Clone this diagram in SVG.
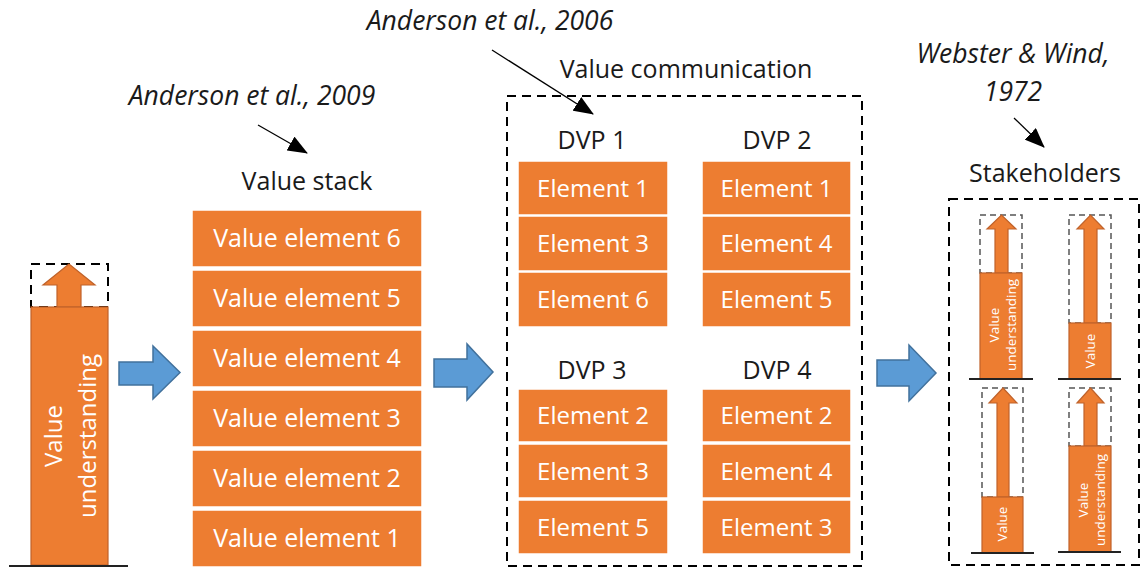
<svg xmlns="http://www.w3.org/2000/svg" width="1142" height="568" viewBox="0 0 1142 568">
<defs>
<style>
.lbl{font-family:"Open Sans","Liberation Sans",sans-serif;font-size:25px;fill:#1a1a1a;text-anchor:middle}
.cite{font-family:"Open Sans","Liberation Sans",sans-serif;font-size:26.5px;font-style:italic;fill:#1a1a1a;text-anchor:middle}
.wt{font-family:"Open Sans","Liberation Sans",sans-serif;font-size:24px;fill:#ffffff;text-anchor:middle}
.ve{font-size:25px}
.sm{font-family:"Open Sans","Liberation Sans",sans-serif;font-size:13.5px;fill:#ffffff;text-anchor:middle}
.box{fill:#ED7D31;stroke:#ffffff;stroke-width:1.5}
.bar{fill:#ED7D31;stroke:#C0622A;stroke-width:1.2}
.dash{fill:none;stroke:#000;stroke-width:2;stroke-dasharray:9 6}
.dsm{fill:none;stroke:#555;stroke-width:1.5;stroke-dasharray:6 4}
.base{stroke:#222;stroke-width:2}
.blue{fill:#5B9BD5;stroke:#41719C;stroke-width:1.5}
.ptr{stroke:#000;stroke-width:1.3;fill:none;marker-end:url(#ah)}
</style>
<marker id="ah" markerUnits="userSpaceOnUse" markerWidth="20" markerHeight="16" viewBox="0 0 20 16" refX="19" refY="8" orient="auto">
<path d="M0,0 L20,8 L0,16 Z" fill="#000"/>
</marker>
</defs>

<g id="value-understanding">
<rect class="dash" x="31" y="264" width="77" height="43" stroke-dasharray="10 6"/>
<polygon class="bar" points="57,307 57,285 43,285 69,264 95,285 81,285 81,307"/>
<rect class="bar" x="31" y="307" width="77" height="258"/>
<line class="base" x1="9" y1="566" x2="128" y2="566"/>
<g transform="translate(70,436) rotate(-90)">
<text class="wt" x="0" y="-8">Value</text>
<text class="wt" x="0" y="26">understanding</text>
</g>
</g>

<g id="value-stack">
<text class="lbl" x="307" y="190">Value stack</text>
<rect class="box" x="192" y="210" width="230" height="57"/>
<rect class="box" x="192" y="270" width="230" height="57"/>
<rect class="box" x="192" y="330" width="230" height="57"/>
<rect class="box" x="192" y="390" width="230" height="57"/>
<rect class="box" x="192" y="450" width="230" height="57"/>
<rect class="box" x="192" y="510" width="230" height="57"/>
<text class="wt ve" x="307" y="247">Value element 6</text>
<text class="wt ve" x="307" y="307">Value element 5</text>
<text class="wt ve" x="307" y="367">Value element 4</text>
<text class="wt ve" x="307" y="427">Value element 3</text>
<text class="wt ve" x="307" y="487">Value element 2</text>
<text class="wt ve" x="307" y="547">Value element 1</text>
</g>

<g id="value-communication">
<text class="lbl" x="686" y="78">Value communication</text>
<rect class="dash" x="507" y="96" width="355" height="470"/>
<g id="dvp1">
<text class="lbl" x="592" y="149">DVP 1</text>
<rect class="box" x="518" y="161" width="150" height="54"/>
<rect class="box" x="518" y="216" width="150" height="55"/>
<rect class="box" x="518" y="272" width="150" height="55"/>
<text class="wt" x="593" y="197">Element 1</text>
<text class="wt" x="593" y="252">Element 3</text>
<text class="wt" x="593" y="308">Element 6</text>
</g>
<g id="dvp2">
<text class="lbl" x="777" y="149">DVP 2</text>
<rect class="box" x="702" y="161" width="149" height="54"/>
<rect class="box" x="702" y="216" width="149" height="55"/>
<rect class="box" x="702" y="272" width="149" height="55"/>
<text class="wt" x="776.5" y="197">Element 1</text>
<text class="wt" x="776.5" y="252">Element 4</text>
<text class="wt" x="776.5" y="308">Element 5</text>
</g>
<g id="dvp3">
<text class="lbl" x="592" y="379">DVP 3</text>
<rect class="box" x="518" y="389" width="150" height="53"/>
<rect class="box" x="518" y="444" width="150" height="54"/>
<rect class="box" x="518" y="500" width="150" height="54"/>
<text class="wt" x="593" y="424">Element 2</text>
<text class="wt" x="593" y="480">Element 3</text>
<text class="wt" x="593" y="536">Element 5</text>
</g>
<g id="dvp4">
<text class="lbl" x="777" y="379">DVP 4</text>
<rect class="box" x="702" y="389" width="149" height="53"/>
<rect class="box" x="702" y="444" width="149" height="54"/>
<rect class="box" x="702" y="500" width="149" height="54"/>
<text class="wt" x="776.5" y="424">Element 2</text>
<text class="wt" x="776.5" y="480">Element 4</text>
<text class="wt" x="776.5" y="536">Element 3</text>
</g>
</g>

<g id="stakeholders">
<text class="lbl" x="1045" y="182">Stakeholders</text>
<rect class="dash" x="949" y="199" width="190" height="366"/>
<g id="sh-tl">
<rect class="dsm" x="980" y="215" width="42" height="58"/>
<polygon class="bar" points="995,273 995,229 987,229 1001.5,215 1016,229 1008,229 1008,273"/>
<rect class="bar" x="980" y="273" width="42" height="106"/>
<line class="base" x1="969" y1="379" x2="1033" y2="379"/>
<g transform="translate(1001,325) rotate(-90)">
<text class="sm" x="0" y="-2">Value</text>
<text class="sm" x="0" y="15">understanding</text>
</g>
</g>
<g id="sh-tr">
<rect class="dsm" x="1069" y="215" width="42" height="108"/>
<polygon class="bar" points="1084,323 1084,229 1077,229 1090.5,215 1104,229 1097,229 1097,323"/>
<rect class="bar" x="1069" y="323" width="42" height="56"/>
<line class="base" x1="1058" y1="379" x2="1121" y2="379"/>
<text class="sm" transform="translate(1095,351) rotate(-90)" x="0" y="0">Value</text>
</g>
<g id="sh-bl">
<rect class="dsm" x="982" y="388" width="41" height="109"/>
<polygon class="bar" points="997,497 997,403 989,403 1003,388 1017,403 1009,403 1009,497"/>
<rect class="bar" x="982" y="497" width="41" height="56"/>
<line class="base" x1="971" y1="553" x2="1034" y2="553"/>
<text class="sm" transform="translate(1007,524) rotate(-90)" x="0" y="0">Value</text>
</g>
<g id="sh-br">
<rect class="dsm" x="1069" y="388" width="42" height="58"/>
<polygon class="bar" points="1084,446 1084,403 1077,403 1090.5,388 1104,403 1097,403 1097,446"/>
<rect class="bar" x="1069" y="446" width="42" height="106"/>
<line class="base" x1="1058" y1="552" x2="1121" y2="552"/>
<g transform="translate(1090,500) rotate(-90)">
<text class="sm" x="0" y="-2">Value</text>
<text class="sm" x="0" y="15">understanding</text>
</g>
</g>
</g>

<g id="citations">
<text class="cite" x="252" y="105">Anderson et al., 2009</text>
<text class="cite" x="490" y="30">Anderson et al., 2006</text>
<text class="cite" x="1013" y="63">Webster &amp; Wind,</text>
<text class="cite" x="1013" y="101">1972</text>
</g>

<g id="connectors">
<polygon class="blue" points="119,362 153,362 153,346 180,372.5 153,399 153,385 119,385"/>
<polygon class="blue" points="434,359 467,359 467,344 493,372 467,400 467,387 434,387"/>
<polygon class="blue" points="877,360 909,360 909,345 936,373 909,401 909,386 877,386"/>
<line class="ptr" x1="258" y1="125" x2="307" y2="153"/>
<line class="ptr" x1="492" y1="50" x2="593" y2="114"/>
<line class="ptr" x1="1014" y1="118" x2="1044" y2="147"/>
</g>
</svg>
